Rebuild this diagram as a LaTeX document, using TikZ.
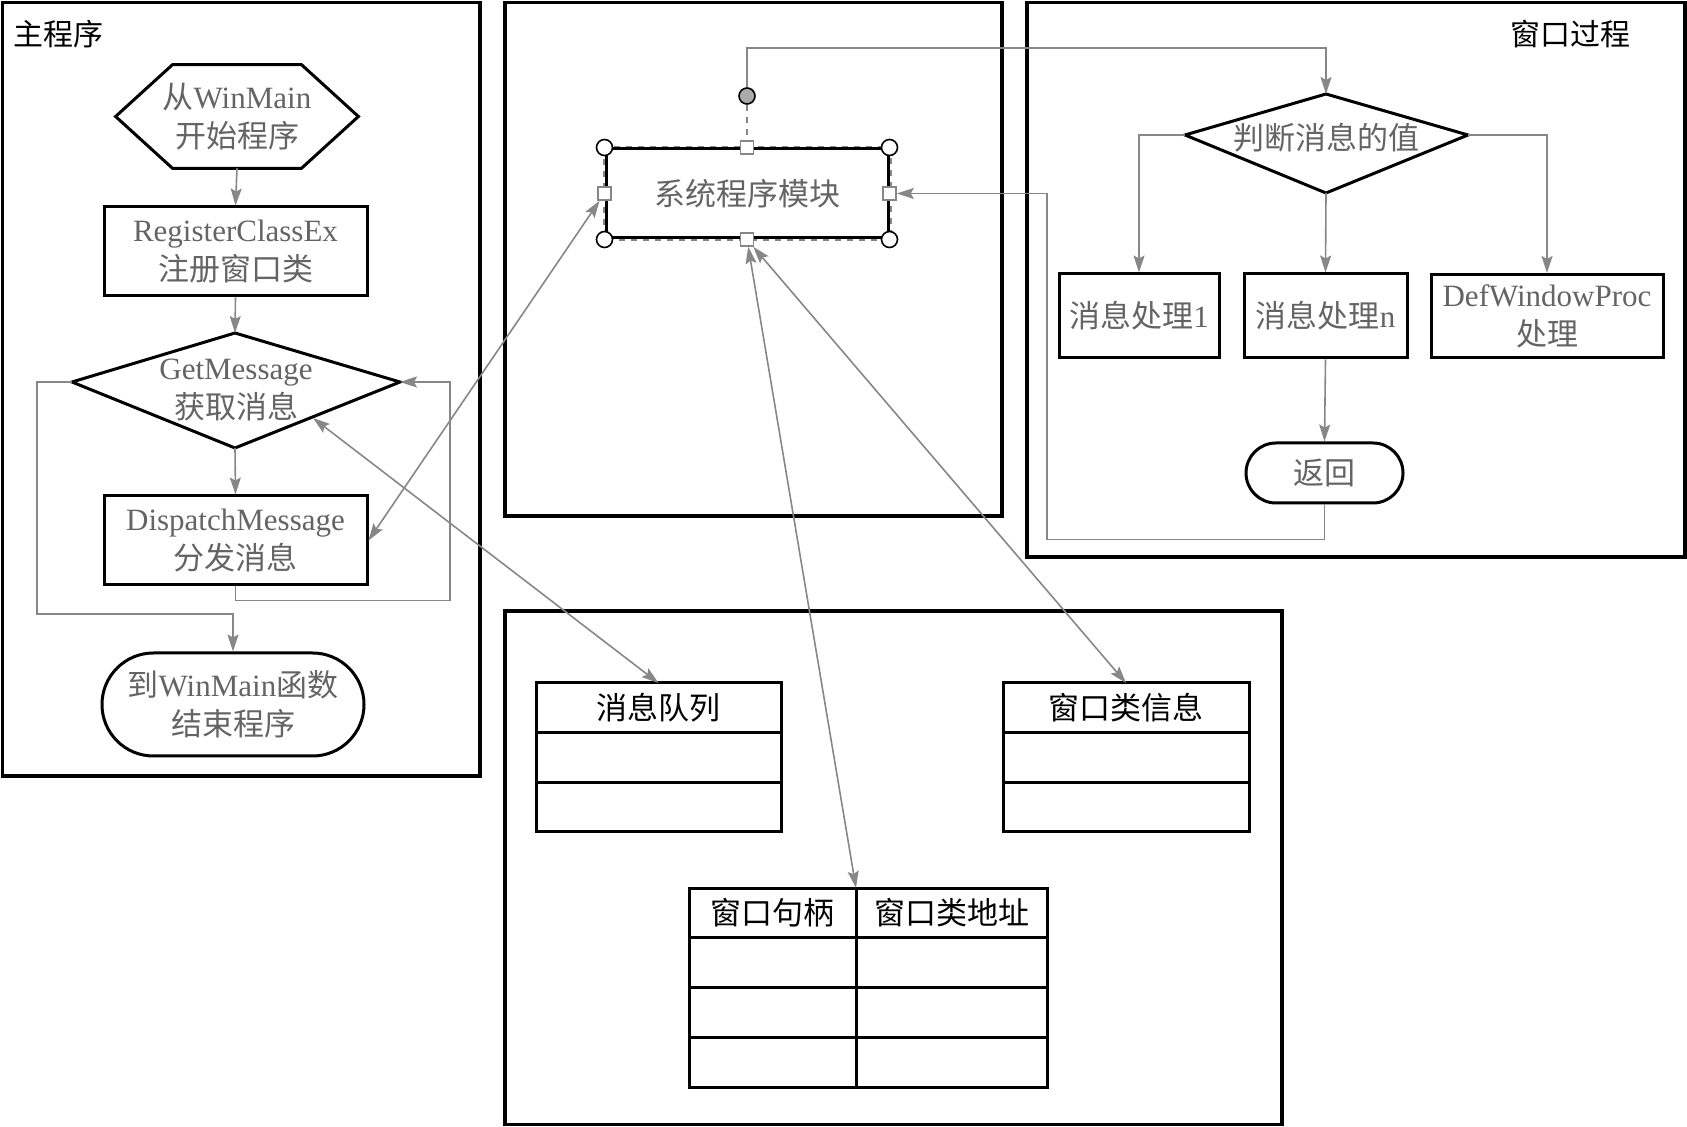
\documentclass[tikz,border=0pt]{standalone}
\usepackage{fontspec}
\setmainfont{Liberation Serif}
\newfontfamily\zhfont{Noto Sans CJK SC}
\newcommand\zh[1]{{\zhfont #1}}
\usetikzlibrary{arrows.meta}
\definecolor{txtgray}{RGB}{100,100,100}
\definecolor{lngray}{RGB}{135,135,135}
\definecolor{hdlgray}{RGB}{170,170,170}
\pgfdeclarelayer{background}
\pgfsetlayers{background,main}
\begin{document}
\begin{tikzpicture}[x=0.5pt,y=-0.5pt,
  myframe/.style={draw=black, line width=1.6pt},
  fbox/.style={draw=black, line width=1.5pt, inner sep=0pt, text=txtgray, align=center, font=\fontsize{15.5pt}{19.5pt}\selectfont},
  plain/.style={inner sep=0pt, text=txtgray, align=center, font=\fontsize{15.5pt}{19.5pt}\selectfont},
  conn/.style={draw=lngray, line width=0.8pt},
  arr/.style={conn, -{Stealth[length=8.5pt,width=5.5pt,inset=1.5pt]}},
  darr/.style={conn, {Stealth[length=8.5pt,width=5.5pt,inset=1.5pt]}-{Stealth[length=8.5pt,width=5.5pt,inset=1.5pt]}},
  cell/.style={draw=black, line width=1.5pt, inner sep=0pt, outer sep=0pt, text=black, font=\fontsize{15.5pt}{19.5pt}\selectfont\zhfont},
  ttl/.style={inner sep=0pt, text=black, font=\fontsize{15pt}{18pt}\selectfont\zhfont},
  handle/.style={circle, draw=black, fill=white, line width=0.8pt, minimum size=8pt, inner sep=0pt},
  sq/.style={rectangle, draw=lngray, fill=white, line width=0.8pt, minimum size=6.5pt, inner sep=0pt},
]
\useasboundingbox (0,0) rectangle (1687,1127);

% ---------- frames ----------
\draw[myframe] (2.5,2.5) rectangle (480,776);
\draw[myframe] (505,2.5) rectangle (1002,516);
\draw[myframe] (1027,2.5) rectangle (1685,557);
\draw[myframe] (505,611) rectangle (1282,1124.5);

% ---------- main program ----------
\node[ttl] (tmain) at (58,34) {主程序};
\node[plain, minimum width=121pt, minimum height=51.5pt] (hex) at (237,116.5) {\zh{从}WinMain\\\zh{开始程序}};
\draw[line width=1.5pt] (hex.west) -- ([xshift=28.5pt]hex.north west) -- ([xshift=-28.5pt]hex.north east)
  -- (hex.east) -- ([xshift=-28.5pt]hex.south east) -- ([xshift=28.5pt]hex.south west) -- cycle;
\node[fbox, minimum width=131.5pt, minimum height=44.5pt] (reg) at (235.5,251.5) {RegisterClassEx\\\zh{注册窗口类}};
\coordinate (gmT) at (235,333);
\coordinate (gmL) at (72,382);
\coordinate (gmR) at (400,382);
\coordinate (gmB) at (235,448);
\coordinate (gmA) at (313,418);
\draw[line width=1.5pt] (gmT) -- (gmR) -- (gmB) -- (gmL) -- cycle;
\node[plain] (gm) at (236,390) {GetMessage\\\zh{获取消息}};
\node[fbox, minimum width=131.5pt, minimum height=44.5pt] (disp) at (235.5,540.5) {DispatchMessage\\\zh{分发消息}};
\node[fbox, rounded corners=25.7pt, minimum width=131pt, minimum height=51.5pt] (endn) at (233,704.5) {\zh{到}WinMain\zh{函数}\\\zh{结束程序}};

\draw[arr] (hex.south) -- (reg.north);
\draw[arr] (reg.south) -- (gmT);
\draw[arr] (gmB) -- (disp.north);
\draw[arr] (gmL) -- (37,382) -- (37,614) -| (endn.north);
\draw[arr] (disp.south) -- ++(0,14) -| (450,382) -- (gmR);

% ---------- system module ----------
\draw[lngray, dashed, line width=0.8pt] (604,147) rectangle (891,240);
\node[fbox, minimum width=141pt, minimum height=44.5pt] (sys) at (747,193.5) {\zh{系统程序模块}};
\node[handle] (c1) at (sys.north west) {};
\node[handle] (c2) at (sys.north east) {};
\node[handle] (c3) at (sys.south west) {};
\node[handle] (c4) at (sys.south east) {};
\node[sq] (sqT) at (sys.north) {};
\node[sq] (sqB) at (sys.south) {};
\node[sq] (sqL) at (sys.west) {};
\node[sq] (sqR) at (sys.east) {};
\node[handle, fill=hdlgray] (hdl) at (747,96) {};
\begin{pgfonlayer}{background}
\draw[lngray, dashed, line width=0.8pt] (hdl) -- (sqT);
\end{pgfonlayer}

% ---------- window procedure ----------
\node[ttl] (tproc) at (1570,34) {窗口过程};
\coordinate (jdT) at (1326,94);
\coordinate (jdL) at (1185,135);
\coordinate (jdR) at (1468,135);
\coordinate (jdB) at (1326,193);
\draw[line width=1.5pt] (jdT) -- (jdR) -- (jdB) -- (jdL) -- cycle;
\node[plain] (jd) at (1326,138) {\zh{判断消息的值}};
\node[fbox, minimum width=80pt, minimum height=42pt] (b1) at (1139,316) {\zh{消息处理}1};
\node[fbox, minimum width=81.5pt, minimum height=42pt] (bn) at (1325.5,316) {\zh{消息处理}n};
\node[fbox, minimum width=116pt, minimum height=41.5pt] (bd) at (1547,316) {DefWindowProc\\\zh{处理}};
\node[fbox, rounded corners=15pt, minimum width=78.5pt, minimum height=30pt] (ret) at (1324.5,473) {\zh{返回}};

\draw[arr] (hdl.north) -- ++(0,-39) -| (jdT);
\draw[arr] (jdL) -| (b1.north);
\draw[arr] (jdR) -| (bd.north);
\draw[arr] (jdB) -- (bn.north);
\draw[arr] (bn.south) -- (ret.north);
\draw[arr] (ret.south) -- ++(0,35) -| (1047,193.5) -- (sqR);

% ---------- data tables ----------
\node[cell, minimum width=122.5pt, minimum height=24.8pt, anchor=north] (mqh) at (658.5,683) {消息队列};
\node[cell, minimum width=122.5pt, minimum height=24.8pt, anchor=north] (mqr1) at (mqh.south) {};
\node[cell, minimum width=122.5pt, minimum height=24.8pt, anchor=north] (mqr2) at (mqr1.south) {};

\node[cell, minimum width=123pt, minimum height=24.8pt, anchor=north] (wch) at (1126,683) {窗口类信息};
\node[cell, minimum width=123pt, minimum height=24.8pt, anchor=north] (wcr1) at (wch.south) {};
\node[cell, minimum width=123pt, minimum height=24.8pt, anchor=north] (wcr2) at (wcr1.south) {};

\node[cell, minimum width=83.5pt, minimum height=24.9pt, anchor=north] (wha) at (772.5,888) {窗口句柄};
\node[cell, minimum width=83.5pt, minimum height=24.9pt, anchor=north] (wha1) at (wha.south) {};
\node[cell, minimum width=83.5pt, minimum height=24.9pt, anchor=north] (wha2) at (wha1.south) {};
\node[cell, minimum width=83.5pt, minimum height=24.9pt, anchor=north] (wha3) at (wha2.south) {};
\node[cell, minimum width=95.5pt, minimum height=24.9pt, anchor=north] (whb) at (951.5,888) {窗口类地址};
\node[cell, minimum width=95.5pt, minimum height=24.9pt, anchor=north] (whb1) at (whb.south) {};
\node[cell, minimum width=95.5pt, minimum height=24.9pt, anchor=north] (whb2) at (whb1.south) {};
\node[cell, minimum width=95.5pt, minimum height=24.9pt, anchor=north] (whb3) at (whb2.south) {};

% ---------- cross connectors ----------
\draw[darr] (disp.east) -- (sqL);
\draw[darr] (gmA) -- (mqh.north);
\draw[darr] (wha.north east) -- (sqB);
\draw[darr] (wch.north) -- (sqB);
\end{tikzpicture}
\end{document}
